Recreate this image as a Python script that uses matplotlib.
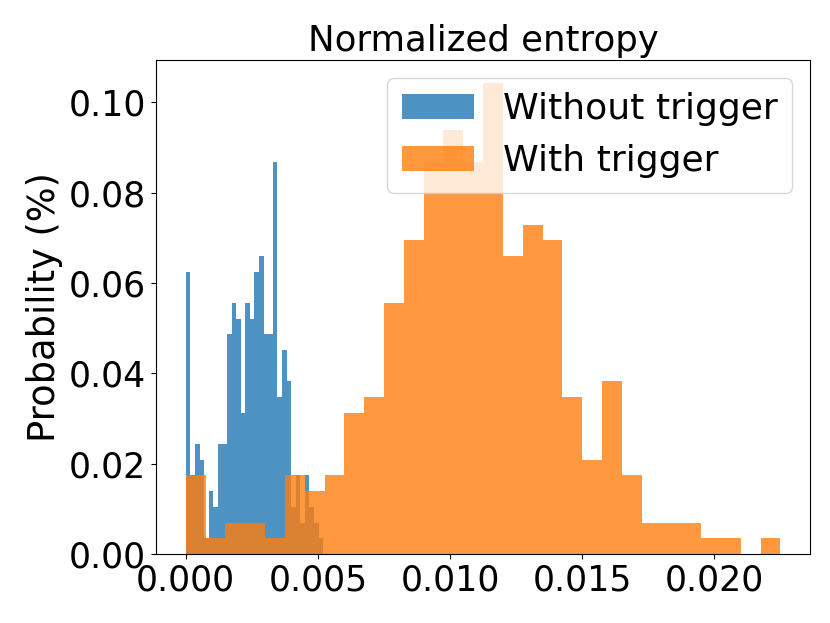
import numpy as np
import matplotlib
matplotlib.use('Agg')
import matplotlib.pyplot as plt

# histogram heights (probability per bin)
without_probs = [0.0625, 0.0174, 0.0243, 0.0208, 0.0035, 0.0139, 0.0104, 0.0243, 0.0243, 0.0486,
                 0.0556, 0.0521, 0.0313, 0.0556, 0.0521, 0.0625, 0.0660, 0.0486, 0.0486, 0.0868,
                 0.0347, 0.0451, 0.0382, 0.0104, 0.0174, 0.0069, 0.0174, 0.0104, 0.0069, 0.0035]
with_probs = [0.0174, 0.0035, 0.0069, 0.0069, 0.0035, 0.0174, 0.0139, 0.0174, 0.0313, 0.0347,
              0.0556, 0.0694, 0.0868, 0.0938, 0.0868, 0.1042, 0.0660, 0.0729, 0.0694, 0.0347,
              0.0208, 0.0382, 0.0174, 0.0069, 0.0069, 0.0069, 0.0035, 0.0035, 0.0, 0.0035]
without_range = (0.0, 0.0052)
with_range = (0.0, 0.0225)
labels = ['Without trigger', 'With trigger']
title = 'Normalized entropy'
ylabel = 'Probability (%)'

if __name__ == '__main__':
    plt.rcParams['font.size'] = 25

    fig = plt.figure(figsize=(8.3, 6.23), dpi=100)
    ax = fig.add_axes([0.188, 0.111, 0.788, 0.793])

    edges_a = np.linspace(without_range[0], without_range[1], len(without_probs) + 1)
    edges_b = np.linspace(with_range[0], with_range[1], len(with_probs) + 1)

    ax.hist(edges_a[:-1], bins=edges_a, weights=without_probs, alpha=0.8, label=labels[0])
    ax.hist(edges_b[:-1], bins=edges_b, weights=with_probs, alpha=0.8, label=labels[1])

    ax.set_title(title, fontsize=25.6)
    ax.set_ylabel(ylabel, fontsize=26.5)
    ax.legend(loc='upper right', fontsize=26)

    plt.savefig('out.png')
